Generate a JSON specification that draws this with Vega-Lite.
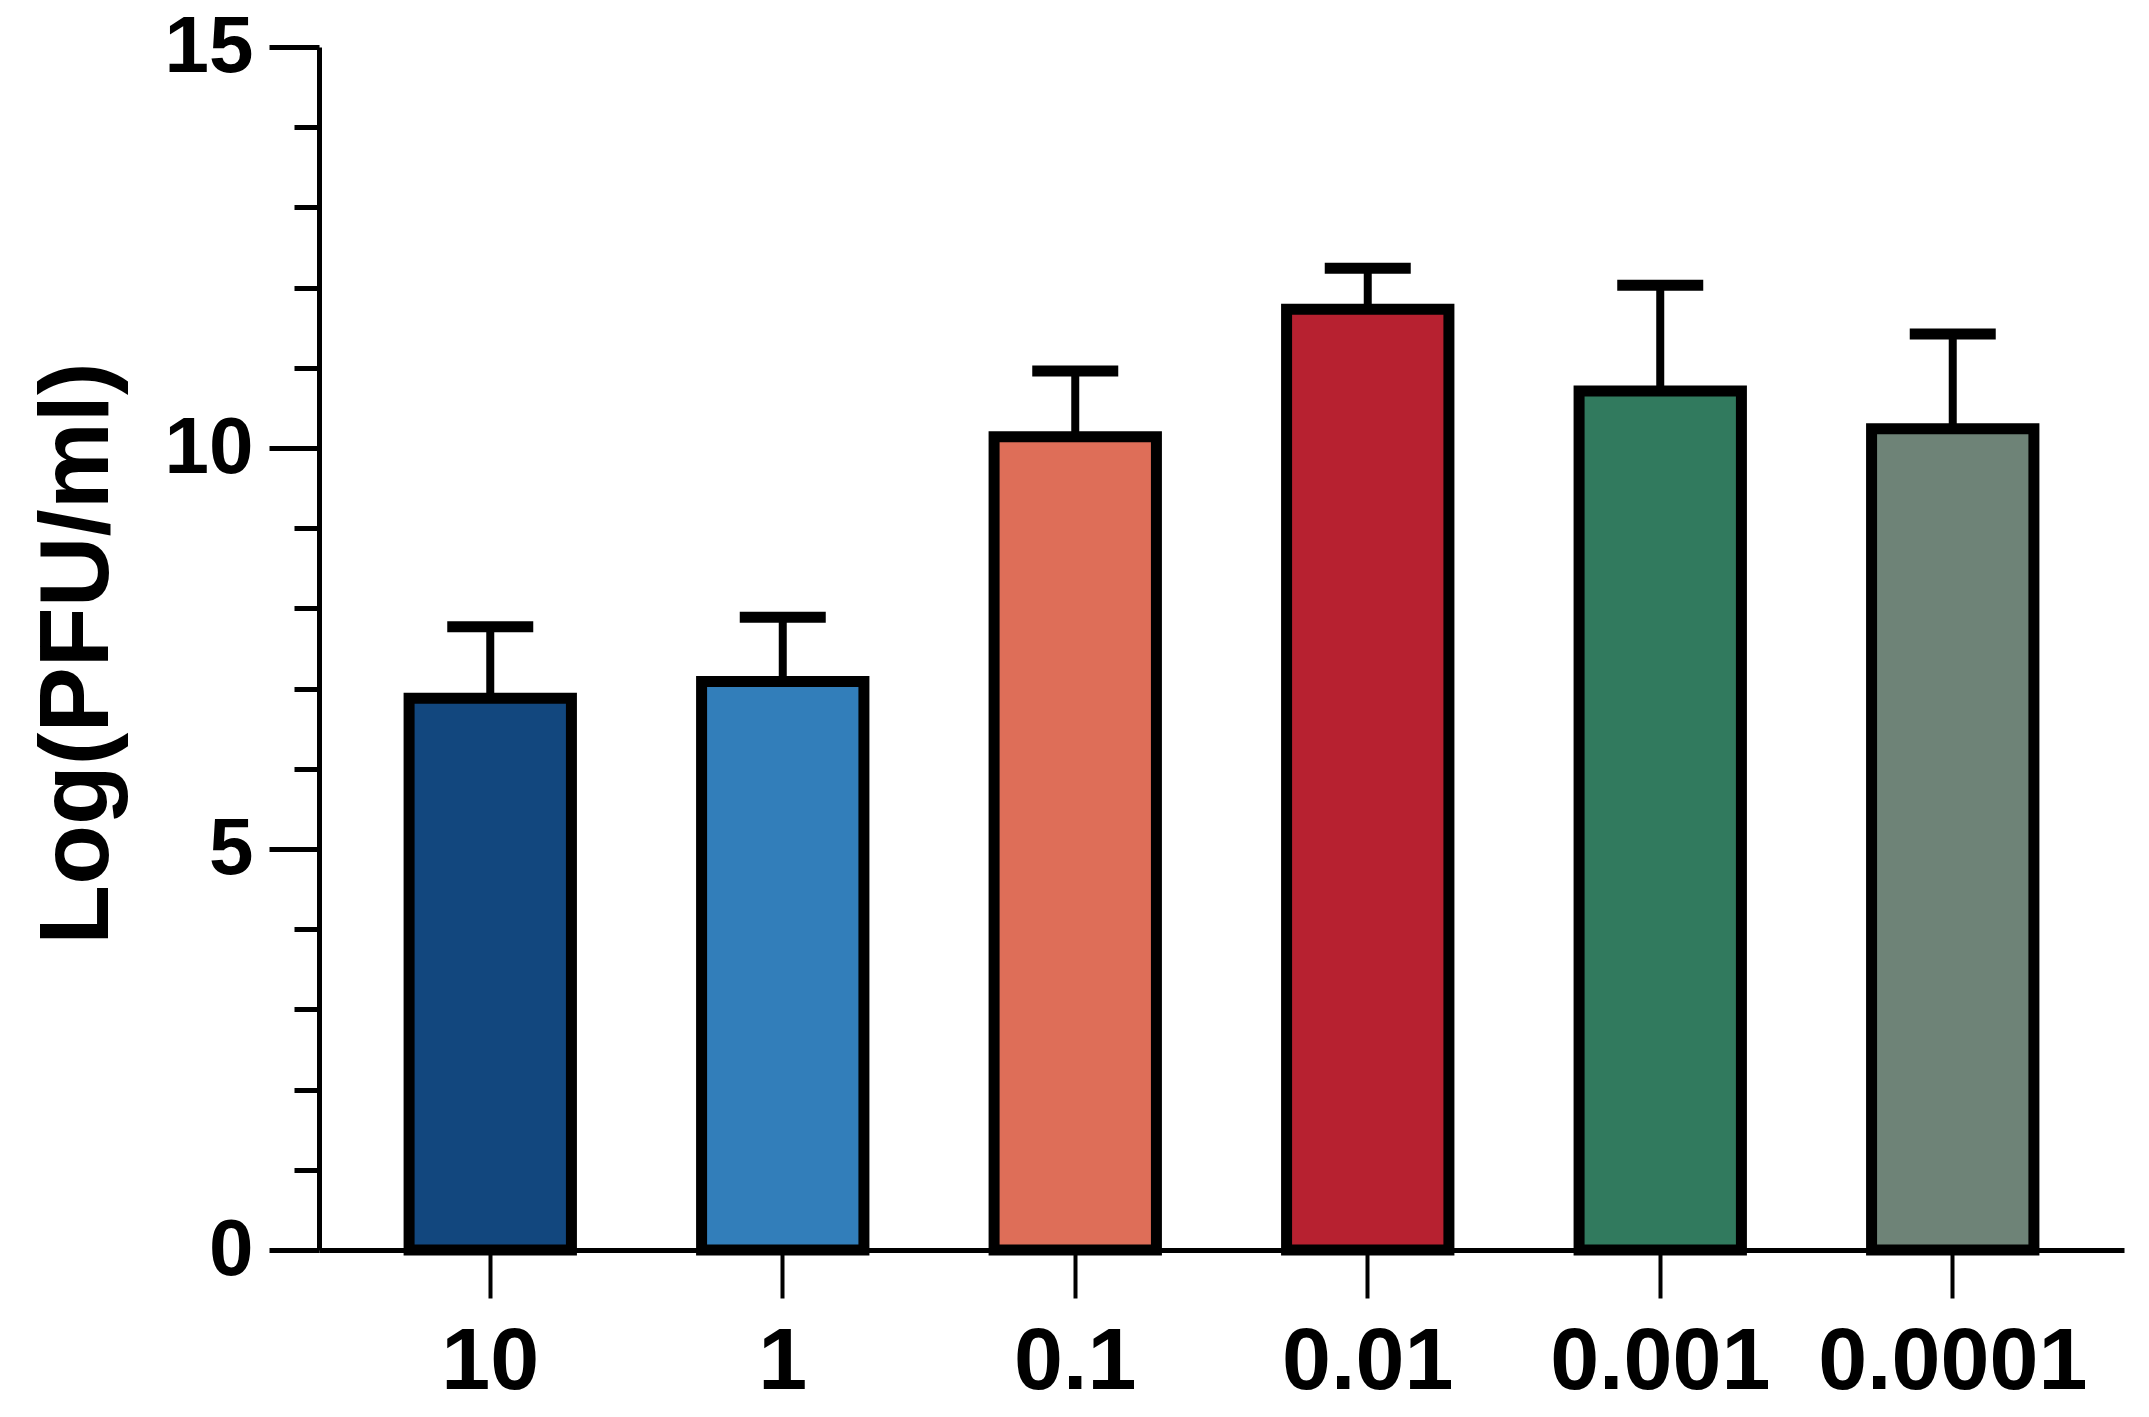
{
  "$schema": "https://vega.github.io/schema/vega-lite/v6.json",
  "width": 1805,
  "height": 1203,
  "autosize": {"type": "none"},
  "padding": {"left": 319, "top": 47, "right": 25, "bottom": 167},
  "background": "white",
  "config": {"view": {"stroke": null}, "font": "Liberation Sans"},
  "data": {
    "values": [
      {"dose": "10", "mean": 6.88, "upper": 7.77},
      {"dose": "1", "mean": 7.09, "upper": 7.89},
      {"dose": "0.1", "mean": 10.14, "upper": 10.96},
      {"dose": "0.01", "mean": 11.73, "upper": 12.24},
      {"dose": "0.001", "mean": 10.71, "upper": 12.03},
      {"dose": "0.0001", "mean": 10.24, "upper": 11.42}
    ]
  },
  "encoding": {
    "x": {
      "field": "dose",
      "type": "nominal",
      "sort": null,
      "scale": {"paddingInner": 0.445, "paddingOuter": 0.308},
      "axis": {
        "title": null,
        "labelAngle": 0,
        "labelFontSize": 88,
        "labelFontWeight": "bold",
        "labelColor": "black",
        "labelPadding": 20,
        "labelLimit": 0,
        "labelOverlap": false,
        "tickSize": 48,
        "tickWidth": 4,
        "tickColor": "black",
        "domainColor": "black",
        "domainWidth": 5
      }
    }
  },
  "layer": [
    {
      "mark": {"type": "bar", "stroke": "black", "strokeWidth": 11},
      "encoding": {
        "y": {
          "field": "mean",
          "type": "quantitative",
          "scale": {"domain": [0, 15], "nice": false},
          "axis": {
            "values": [0, 1, 2, 3, 4, 5, 6, 7, 8, 9, 10, 11, 12, 13, 14, 15],
            "format": "d",
            "labelExpr": "datum.value % 5 === 0 ? datum.label : ''",
            "tickSize": {"condition": {"test": "datum.value % 5 === 0", "value": 50}, "value": 25},
            "tickWidth": 5,
            "tickColor": "black",
            "domainColor": "black",
            "domainWidth": 5,
            "grid": false,
            "labelFontSize": 80,
            "labelFontWeight": "bold",
            "labelColor": "black",
            "labelPadding": 16,
            "labelFlush": false,
            "labelOverlap": false,
            "title": "Log(PFU/ml)",
            "titleFontSize": 98,
            "titleFontWeight": "bold",
            "titleColor": "black",
            "titleAngle": 270,
            "titleAlign": "center",
            "titleBaseline": "bottom",
            "titleX": -191,
            "titleY": 606
          }
        },
        "color": {
          "field": "dose",
          "type": "nominal",
          "scale": {
            "domain": ["10", "1", "0.1", "0.01", "0.001", "0.0001"],
            "range": ["#12477E", "#327EBA", "#DE6E58", "#B72130", "#317A5E", "#6E8377"]
          },
          "legend": null
        }
      }
    },
    {
      "mark": {"type": "rule", "color": "black", "strokeWidth": 8},
      "encoding": {
        "y": {"field": "mean", "type": "quantitative"},
        "y2": {"field": "upper"}
      }
    },
    {
      "mark": {"type": "tick", "color": "black", "thickness": 11, "size": 86, "opacity": 1},
      "encoding": {
        "y": {"field": "upper", "type": "quantitative"}
      }
    }
  ]
}
